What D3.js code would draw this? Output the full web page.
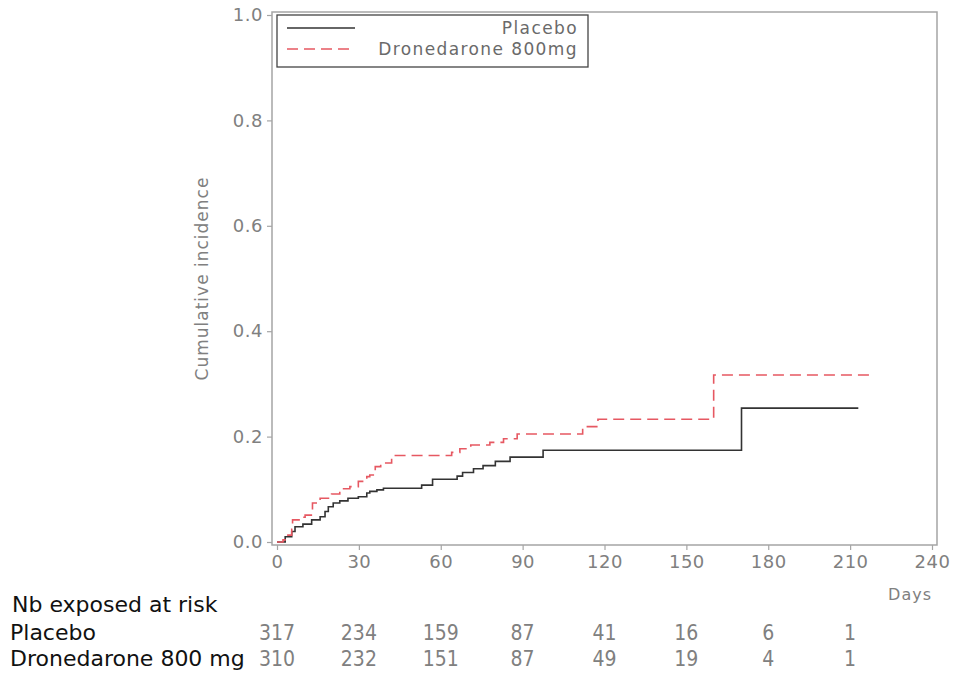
<!DOCTYPE html>
<html>
<head>
<meta charset="utf-8">
<script src="https://cdn.jsdelivr.net/npm/d3@7"></script>
<style>
  body { margin: 0; background: #fff; }
  svg { display: block; }
  text { font-family: "DejaVu Sans", sans-serif; }
</style>
</head>
<body>
<div id="chart"></div>
<script>
// step curves: day of each step and cumulative incidence after it
const placeboDays = [0, 3, 5.4, 6.6, 9.5, 12.7, 15.8, 17.6, 18.8, 20.6, 23, 26, 29.8, 32.9, 34, 36.6, 39, 53, 57, 66, 68, 72, 75.5, 80, 85.4, 97.5, 170.2, 213];
const placeboInc  = [0, 0.01, 0.02, 0.029, 0.034, 0.042, 0.048, 0.058, 0.067, 0.074, 0.078, 0.083, 0.086, 0.093, 0.096, 0.099, 0.102, 0.108, 0.119, 0.125, 0.132, 0.139, 0.145, 0.153, 0.161, 0.174, 0.254, 0.254];

const droneDays = [0, 2.2, 4, 5.4, 5.7, 8.4, 10.3, 13, 15.8, 20, 23, 26.7, 29.8, 32.9, 34, 36, 38, 42, 64, 67, 71, 78, 83, 88, 112, 117.6, 160, 218];
const droneInc  = [0, 0.004, 0.013, 0.024, 0.042, 0.047, 0.051, 0.074, 0.083, 0.091, 0.101, 0.105, 0.115, 0.124, 0.127, 0.143, 0.150, 0.164, 0.170, 0.177, 0.184, 0.189, 0.196, 0.205, 0.219, 0.233, 0.317, 0.317];

const seriesNames = ["Placebo", "Dronedarone 800mg"];
const riskLabels = ["Placebo", "Dronedarone 800 mg"];
const riskDays = [0, 30, 60, 90, 120, 150, 180, 210];
const riskPlacebo = [317, 234, 159, 87, 41, 16, 6, 1];
const riskDrone = [310, 232, 151, 87, 49, 19, 4, 1];
const xTicks = [0, 30, 60, 90, 120, 150, 180, 210, 240];
const yTicks = [0, 0.2, 0.4, 0.6, 0.8, 1.0];

const W = 953, H = 673;
const frame = {left: 272, right: 937, top: 12, bottom: 545};
const axisGrey = '#a5a5a5';
const textGrey = '#808080';
const red = '#e65862';

const svg = d3.select('#chart').append('svg')
    .attr('width', W)
    .attr('height', H);

const x = d3.scaleLinear().domain([0, 240]).range([277, 932]);
const y = d3.scaleLinear().domain([0, 1]).range([542, 15]);

// frame
svg.append('rect')
    .attr('x', frame.left).attr('y', frame.top)
    .attr('width', frame.right - frame.left)
    .attr('height', frame.bottom - frame.top)
    .attr('fill', 'none')
    .attr('stroke', axisGrey)
    .attr('stroke-width', 1.5);

// axes
const xAxis = svg.append('g')
    .attr('transform', 'translate(0,' + frame.bottom + ')')
    .call(d3.axisBottom(x).tickValues(xTicks).tickSize(5).tickPadding(5).tickFormat(d3.format('d')));
const yAxis = svg.append('g')
    .attr('transform', 'translate(' + frame.left + ',0)')
    .call(d3.axisLeft(y).tickValues(yTicks).tickSize(5).tickPadding(4).tickFormat(d3.format('.1f')));

[xAxis, yAxis].forEach(g => {
    g.select('.domain').remove();
    g.selectAll('line').attr('stroke', axisGrey).attr('stroke-width', 1.2);
    g.selectAll('text').attr('fill', textGrey).style('font-size', '18px')
        .style('font-family', '"DejaVu Sans", sans-serif')
        .style('letter-spacing', '0.5px');
});

svg.append('text')
    .attr('transform', 'translate(208,' + ((15 + 542) / 2) + ') rotate(-90)')
    .attr('text-anchor', 'middle')
    .attr('fill', textGrey)
    .style('font-size', '17px')
    .style('letter-spacing', '1px')
    .text('Cumulative incidence');

svg.append('text')
    .attr('x', 932).attr('y', 600)
    .attr('text-anchor', 'end')
    .attr('fill', textGrey)
    .style('font-size', '16px')
    .style('letter-spacing', '1px')
    .text('Days');

// curves
const line = d3.line()
    .x(d => x(d[0]))
    .y(d => y(d[1]))
    .curve(d3.curveStepAfter);

svg.append('path')
    .datum(placeboDays.map((d, i) => [d, placeboInc[i]]))
    .attr('d', line)
    .attr('fill', 'none')
    .attr('stroke', '#333')
    .attr('stroke-width', 1.6);

svg.append('path')
    .datum(droneDays.map((d, i) => [d, droneInc[i]]))
    .attr('d', line)
    .attr('fill', 'none')
    .attr('stroke', red)
    .attr('stroke-width', 1.6)
    .attr('stroke-dasharray', '11,6');

// legend
const legend = svg.append('g');
legend.append('rect')
    .attr('x', 277).attr('y', 15)
    .attr('width', 311).attr('height', 52)
    .attr('fill', '#fff')
    .attr('stroke', '#444')
    .attr('stroke-width', 1.3);

const legendStyles = [{stroke: '#333', dash: null}, {stroke: red, dash: '11,6'}];
seriesNames.forEach((name, i) => {
    const ly = 28 + i * 21;
    legend.append('line')
        .attr('x1', 287).attr('x2', 355)
        .attr('y1', ly).attr('y2', ly)
        .attr('stroke', legendStyles[i].stroke)
        .attr('stroke-width', 1.6)
        .attr('stroke-dasharray', legendStyles[i].dash);
    legend.append('text')
        .attr('x', 578).attr('y', ly + 6)
        .attr('text-anchor', 'end')
        .attr('fill', '#6a6a6a')
        .style('font-size', '17px')
        .style('letter-spacing', '1.4px')
        .text(name);
});

// at-risk table
svg.append('text')
    .attr('x', 12).attr('y', 612)
    .attr('fill', '#111')
    .style('font-size', '22px')
    .text('Nb exposed at risk');

const riskRows = [riskPlacebo, riskDrone];
riskRows.forEach((row, r) => {
    const by = 640 + r * 26;
    svg.append('text')
        .attr('x', 10).attr('y', by)
        .attr('fill', '#111')
        .style('font-size', '22px')
        .text(riskLabels[r]);
    svg.append('g').selectAll('text')
        .data(row)
        .join('text')
        .attr('x', (d, i) => x(riskDays[i]))
        .attr('y', by)
        .attr('text-anchor', 'middle')
        .attr('fill', textGrey)
        .style('font-size', '21px')
        .style('font-family', '"DejaVu Sans Condensed", "DejaVu Sans", sans-serif')
        .text(d => d);
});
</script>
</body>
</html>
